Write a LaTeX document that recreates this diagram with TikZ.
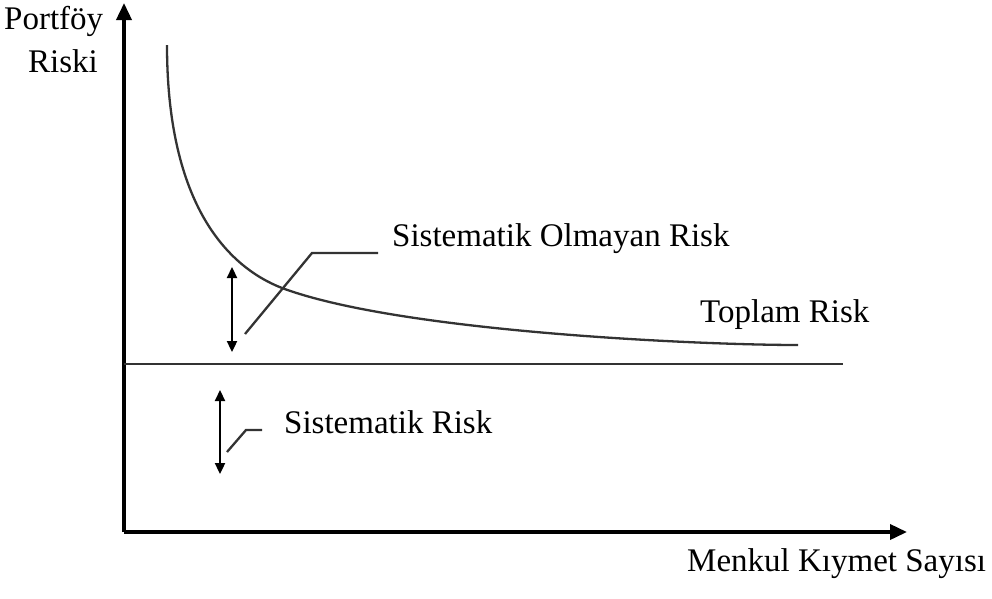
\documentclass[tikz,border=0pt]{standalone}
\usepackage{fontspec}
\setmainfont{Liberation Serif}
\usetikzlibrary{arrows.meta}
\begin{document}
\begin{tikzpicture}[x=1pt,y=-1pt,
  axis/.style={line width=3.6pt,-{Triangle[width=15pt,length=17pt]}},
  thin/.style={line width=2.3pt,draw=black!80},
  dbl/.style={line width=2.3pt,{Triangle[width=10pt,length=11pt]}-{Triangle[width=10pt,length=11pt]}},
  lbl/.style={inner sep=0pt,font=\fontsize{33}{40}\selectfont,anchor=base west}]
\useasboundingbox (0,0) rectangle (992,598);
% axes
\coordinate (o) at (124,532);
\coordinate (ytop) at (124,3);
\coordinate (xend) at (907,532);
\draw[axis] (o) -- (ytop);
\draw[axis] (o) -- (xend);
% systematic risk level
\coordinate (h0) at (124,364);
\coordinate (h1) at (843,364);
\draw[thin] (h0) -- (h1);
% total risk curve
\coordinate (c0) at (167,45);
\coordinate (c1) at (282,288);
\coordinate (c2) at (798,345);
\draw[thin] (c0) .. controls (167,205) and (228,267) .. (c1)
  .. controls (400,332) and (700,345) .. (c2);
% labels
\node[lbl] (py) at (4,29) {Portföy};
\node[lbl] (rk) at (28,72) {Riski};
\node[lbl] (sor) at (392,246) {Sistematik Olmayan Risk};
\node[lbl] (tr) at (700,322) {Toplam Risk};
\node[lbl] (sr) at (284,433) {Sistematik Risk};
\node[lbl] (mk) at (687,571) {Menkul Kıymet Sayısı};
% double arrows
\coordinate (a1t) at (232,267);
\coordinate (a1b) at (232,352);
\draw[dbl] (a1t) -- (a1b);
\coordinate (a2t) at (220,390);
\coordinate (a2b) at (220,474);
\draw[dbl] (a2t) -- (a2b);
% leaders
\coordinate (l1a) at (245,334);
\coordinate (l1b) at (312,253);
\coordinate (l1c) at (378,253);
\draw[thin] (l1a) -- (l1b) -- (l1c);
\coordinate (l2a) at (227,452);
\coordinate (l2b) at (246,430);
\coordinate (l2c) at (262,430);
\draw[thin] (l2a) -- (l2b) -- (l2c);
\end{tikzpicture}
\end{document}
